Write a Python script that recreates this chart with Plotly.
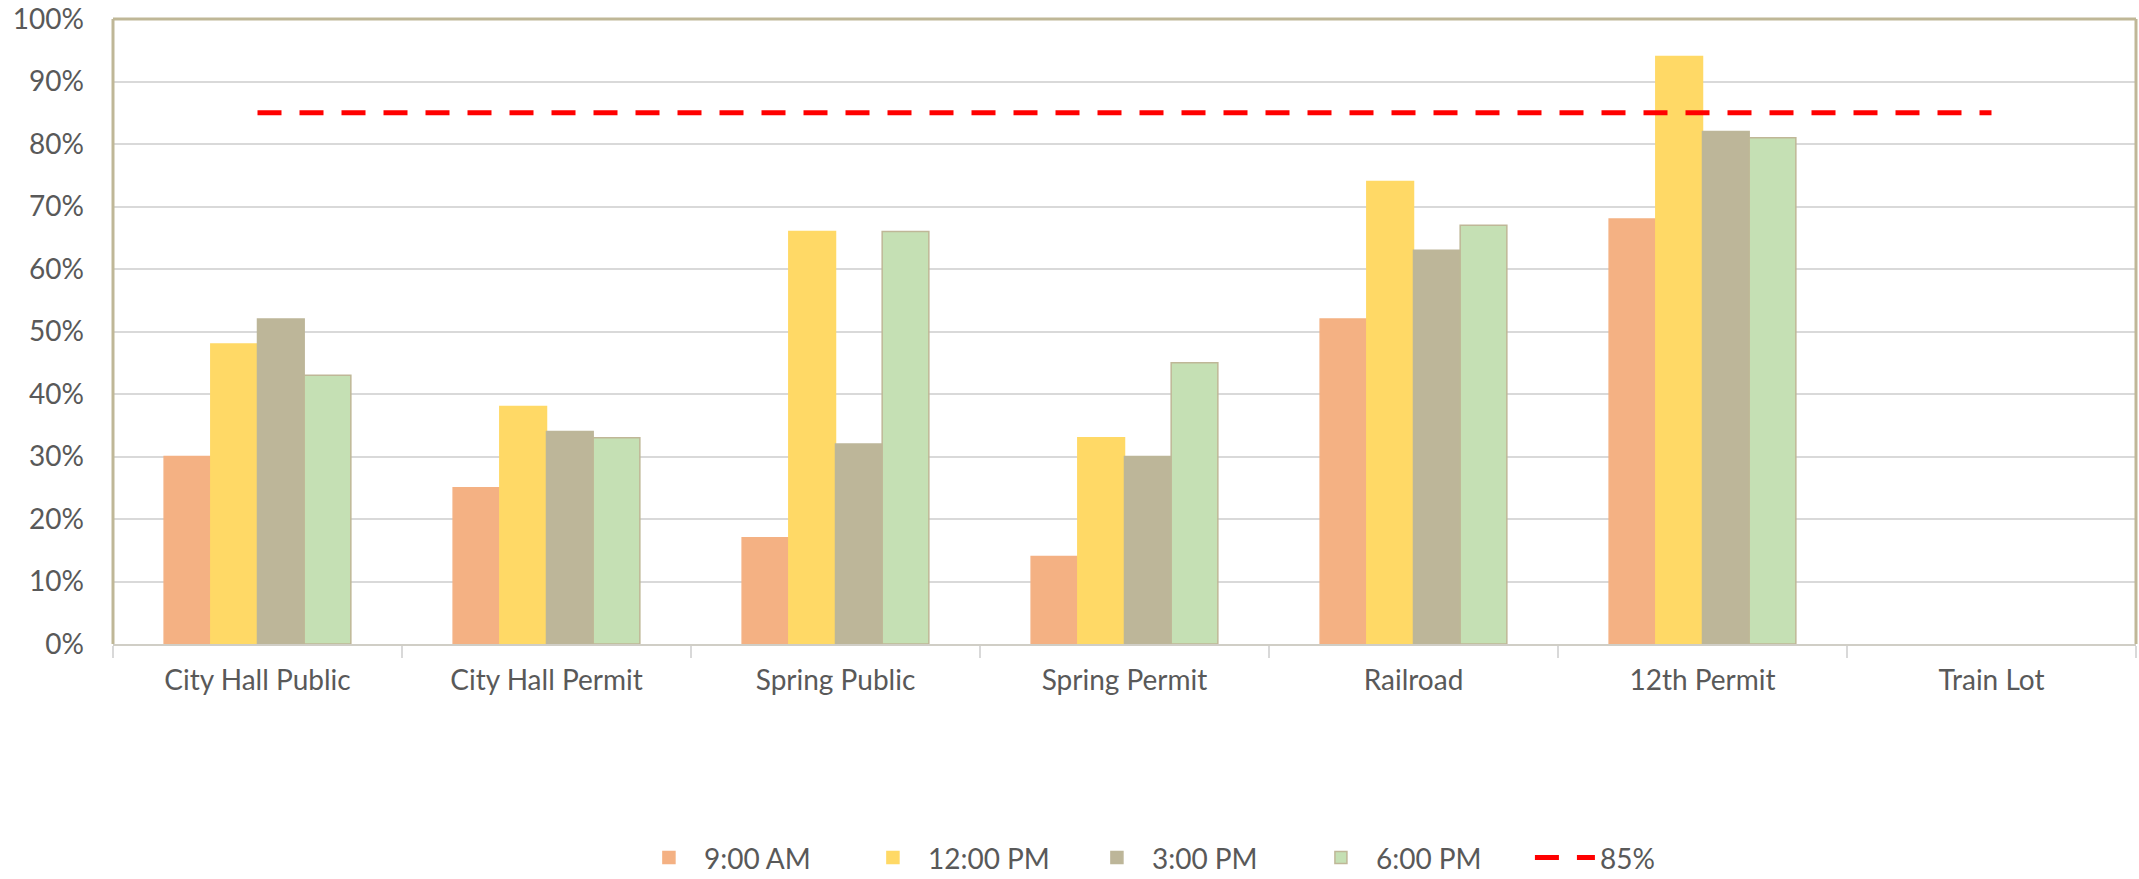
import plotly.graph_objects as go

categories = ["City Hall Public", "City Hall Permit", "Spring Public", "Spring Permit",
              "Railroad", "12th Permit", "Train Lot"]
am9 = [0.30, 0.25, 0.17, 0.14, 0.52, 0.68, None]
pm12 = [0.48, 0.38, 0.66, 0.33, 0.74, 0.94, None]
pm3 = [0.52, 0.34, 0.32, 0.30, 0.63, 0.82, None]
pm6 = [0.43, 0.33, 0.66, 0.45, 0.67, 0.81, None]
target = [0.85] * len(categories)

series = [
    ("9:00 AM", am9, "#F4B183", "#F4B183"),
    ("12:00 PM", pm12, "#FFD966", "#FFD966"),
    ("3:00 PM", pm3, "#BDB699", "#BDB699"),
    ("6:00 PM", pm6, "#C5E0B4", "#BFB797"),
]

fig = go.Figure()
for name, vals, fill, edge in series:
    fig.add_trace(go.Bar(name=name, x=categories, y=vals,
                         marker=dict(color=fill, line=dict(color=edge, width=1.5))))

fig.add_trace(go.Scatter(name="85%", x=categories, y=target, mode="lines",
                         line=dict(color="#FF0000", width=5, dash="24px,18px")))

font_family = "Lato, 'Open Sans', sans-serif"
tan = "#BFB797"

fig.update_layout(
    width=2139, height=879,
    margin=dict(l=113, r=3, t=19, b=235),
    paper_bgcolor="white", plot_bgcolor="white",
    barmode="group", bargap=0.354, bargroupgap=0,
    font=dict(family=font_family, size=28, color="#595959"),
    showlegend=True,
    legend=dict(orientation="h", x=0.2575, xanchor="left", xref="paper",
                y=0.024, yanchor="middle", yref="container",
                font=dict(size=28, color="#595959"), itemwidth=60,
                entrywidth=149, traceorder="normal"),
    xaxis=dict(type="category", showgrid=False, showline=True, linecolor="#D0CEC6",
               linewidth=2, ticks="outside", tickson="boundaries", ticklen=12,
               tickcolor="#D9D9D9", tickwidth=2, ticklabelstandoff=10,
               automargin=False, tickfont=dict(size=28, color="#595959")),
    yaxis=dict(range=[0, 1], dtick=0.1, tickformat=".0%", showgrid=True,
               gridcolor="#D9D9D9", gridwidth=2, zeroline=False, showline=False,
               ticks="", ticklabelstandoff=28, automargin=False,
               tickfont=dict(size=28, color="#595959")),
    shapes=[
        dict(type="line", xref="paper", yref="paper", x0=0, x1=0, y0=0, y1=1,
             line=dict(color=tan, width=3)),
        dict(type="line", xref="paper", yref="paper", x0=0, x1=1, y0=1, y1=1,
             line=dict(color=tan, width=3)),
        dict(type="line", xref="paper", yref="paper", x0=1, x1=1, y0=0, y1=1,
             line=dict(color=tan, width=3)),
    ],
)

fig.write_html("out.html", config={"displayModeBar": False},
               post_script="document.body.style.margin='0px';")
